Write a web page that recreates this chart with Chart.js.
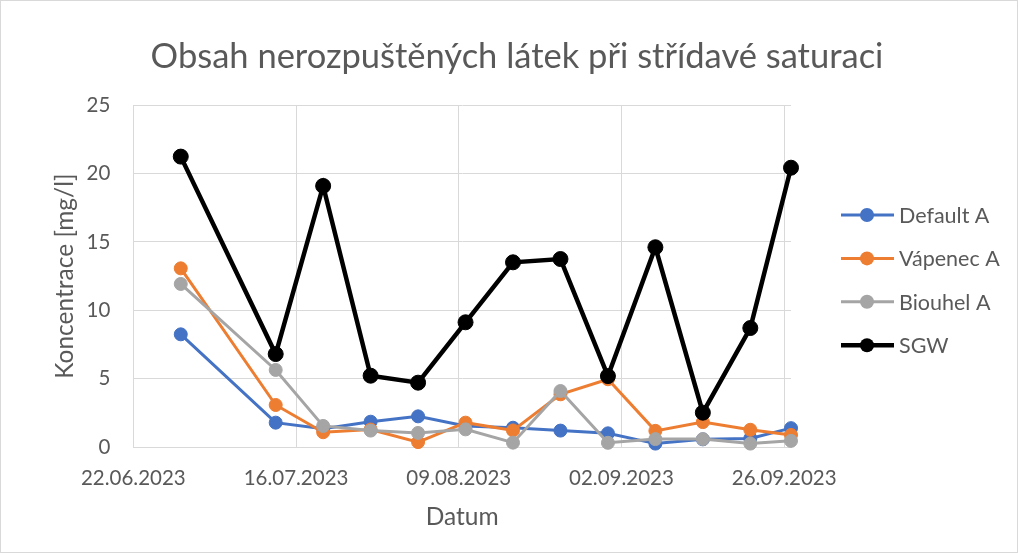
<!DOCTYPE html>
<html>
<head>
<meta charset="utf-8">
<script src="https://cdn.jsdelivr.net/npm/chart.js@4.4.1/dist/chart.umd.min.js"></script>
<style>
  html, body { margin: 0; padding: 0; background: #fff; }
  .box { width: 1018px; height: 553px; box-sizing: border-box; border: 1px solid #d9d9d9; }
  canvas { display: block; }
</style>
</head>
<body>
<div class="box"><canvas id="chart" width="1016" height="551"></canvas></div>
<script>
let dates = ['29.06.2023', '13.07.2023', '20.07.2023', '27.07.2023', '03.08.2023', '10.08.2023', '17.08.2023',
             '24.08.2023', '31.08.2023', '07.09.2023', '14.09.2023', '21.09.2023', '27.09.2023']
let defaultA = [8.25, 1.80, 1.35, 1.87, 2.26, 1.55, 1.43, 1.22, 1.02, 0.27, 0.58, 0.65, 1.40]
let vapenecA = [13.07, 3.09, 1.10, 1.30, 0.38, 1.80, 1.23, 3.87, 4.97, 1.20, 1.84, 1.28, 0.90]
let biouhelA = [11.93, 5.65, 1.56, 1.22, 1.05, 1.31, 0.34, 4.11, 0.33, 0.60, 0.60, 0.27, 0.47]
let sgw = [21.23, 6.81, 19.09, 5.23, 4.72, 9.13, 13.51, 13.75, 5.20, 14.61, 2.53, 8.71, 20.42]

let xTicks = ['22.06.2023', '16.07.2023', '09.08.2023', '02.09.2023', '26.09.2023']
let xStart = '22.06.2023'
let xEnd = '27.09.2023'

let title = 'Obsah nerozpuštěných látek při střídavé saturaci'
let txt = '#595959'
let gridCol = '#d9d9d9'
let font = 'Lato'

function utc(s) {
    let [d, m, y] = s.split('.').map(Number)
    return Date.UTC(y, m - 1, d)
}

// days since the first tick, the x scale is linear in days
function day(s) {
    return (utc(s) - utc(xStart)) / 86400000
}

function pts(vals) {
    return vals.map((v, i) => ({ x: day(dates[i]), y: v }))
}

function series(label, vals, color, width, radius, order) {
    return {
        label: label,
        data: pts(vals),
        borderColor: color,
        backgroundColor: color,
        borderWidth: width,
        pointRadius: radius,
        pointHoverRadius: radius,
        pointBorderWidth: 1,
        tension: 0,
        clip: false,
        order: order,
    }
}

// title over the whole canvas + legend on the right, line + dot like excel
let deco = {
    id: 'deco',
    afterDraw(chart) {
        let ctx = chart.ctx
        ctx.save()
        ctx.fillStyle = txt
        ctx.textBaseline = 'middle'
        ctx.textAlign = 'center'
        ctx.font = '34.5px ' + font
        ctx.fillText(title, chart.width / 2 + 8, 56)
        ctx.textAlign = 'left'
        chart.data.datasets.forEach((ds, i) => {
            let y = 214 + i * 43.4
            ctx.strokeStyle = ds.borderColor
            ctx.lineWidth = ds.borderWidth
            ctx.beginPath()
            ctx.moveTo(840, y)
            ctx.lineTo(893, y)
            ctx.stroke()
            ctx.fillStyle = ds.borderColor
            ctx.beginPath()
            ctx.arc(866, y, 7, 0, Math.PI * 2)
            ctx.fill()
            ctx.fillStyle = txt
            ctx.font = '21.5px ' + font
            ctx.fillText(ds.label, 898, y + 1)
        })
        ctx.restore()
    }
}

let graph = document.querySelector('#chart').getContext('2d')

new Chart(graph, {
    type: 'line',
    data: {
        datasets: [
            series('Default A', defaultA, '#4472c4', 3, 6.5, 4),
            series('Vápenec A', vapenecA, '#ed7d31', 3, 6.5, 3),
            series('Biouhel A', biouhelA, '#a5a5a5', 3, 6.5, 2),
            series('SGW', sgw, '#000000', 4.5, 7.5, 1),
        ]
    },
    options: {
        responsive: false,
        animation: false,
        layout: {
            padding: { left: 0, right: 226, top: 104, bottom: 0 }
        },
        plugins: {
            legend: { display: false },
            tooltip: { enabled: false },
        },
        scales: {
            x: {
                type: 'linear',
                min: 0,
                max: day(xEnd),
                afterBuildTicks: axis => {
                    axis.ticks = xTicks.map(t => ({ value: day(t) }))
                },
                afterFit: axis => { axis.height = 104.7 },
                ticks: {
                    callback: (v, i) => xTicks[i],
                    color: txt,
                    font: { family: font, size: 20.5 },
                    padding: 19,
                    maxRotation: 0,
                },
                grid: { color: gridCol, drawTicks: false },
                border: { color: gridCol },
                title: {
                    display: true,
                    text: 'Datum',
                    color: txt,
                    font: { family: font, size: 24.5 },
                    padding: { top: 0, bottom: 20.3 },
                },
            },
            y: {
                min: 0,
                max: 25,
                afterFit: axis => { axis.width = 132.3 },
                ticks: {
                    stepSize: 5,
                    color: txt,
                    font: { family: font, size: 20.5 },
                    padding: 23,
                },
                grid: { color: gridCol, drawTicks: false },
                border: { color: gridCol },
                title: {
                    display: true,
                    text: 'Koncentrace [mg/l]',
                    color: txt,
                    font: { family: font, size: 24.5 },
                    padding: { top: 49.3, bottom: 0 },
                },
            },
        },
    },
    plugins: [deco],
})
</script>
</body>
</html>
